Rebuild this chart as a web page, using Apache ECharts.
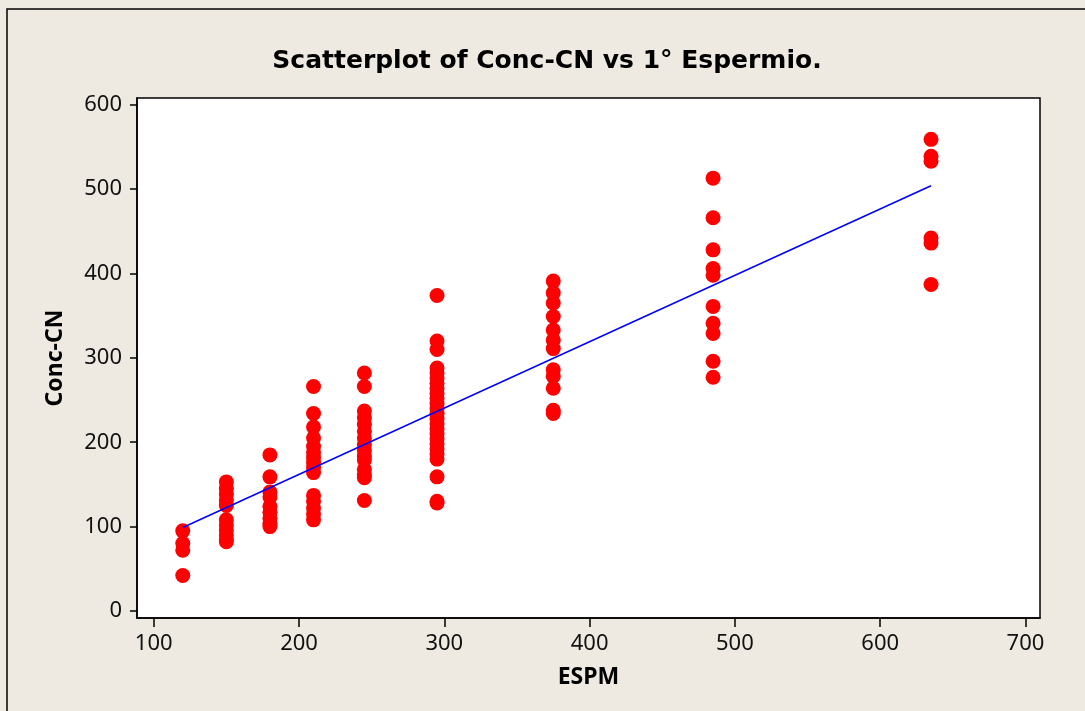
<!DOCTYPE html>
<html>
<head>
<meta charset="utf-8">
<script src="https://cdn.jsdelivr.net/npm/echarts@6/dist/echarts.min.js"></script>
<style>
html,body{margin:0;padding:0;background:#EEEAE1;}
#chart{width:1085px;height:711px;}
</style>
</head>
<body>
<div id="chart"></div>
<script>
// ESPM levels (x) and Conc-CN values (y) observed at each level
const espmLevels = [120, 150, 180, 210, 245, 295, 375, 485, 635];
const concAt120 = [95, 80, 72, 42];
const concAt150 = [153, 145, 138, 131, 125, 108, 102, 96, 90, 85, 82];
const concAt180 = [185, 159, 141, 135, 124, 117, 110, 104, 100];
const concAt210 = [266, 234, 218, 205, 195, 188, 182, 176, 170, 164, 137, 130, 122, 115, 108];
const concAt245 = [282, 266, 237, 229, 221, 213, 205, 197, 190, 183, 179, 168, 162, 158, 131];
const concAt295 = [374, 320, 310, 288, 282, 276, 270, 264, 258, 252, 246, 240, 234, 228, 222, 216, 210, 204, 198, 192, 186, 180, 159, 130, 128];
const concAt375 = [391, 377, 365, 349, 333, 321, 311, 286, 278, 264, 238, 234];
const concAt485 = [513, 466, 428, 406, 398, 361, 341, 329, 296, 277];
const concAt635 = [559, 539, 533, 442, 436, 387];
const concGroups = [concAt120, concAt150, concAt180, concAt210, concAt245, concAt295, concAt375, concAt485, concAt635];

// fitted line end points
const fitX = [120, 635];
const fitY = [99, 504];

// tick labels
const xTicks = [100, 200, 300, 400, 500, 600, 700];
const yTicks = [0, 100, 200, 300, 400, 500, 600];

const titleText = 'Scatterplot of Conc-CN vs 1° Espermio.';

const points = [];
espmLevels.forEach((x, i) => concGroups[i].forEach(y => points.push([x, y])));
const fitData = fitX.map((x, i) => [x, fitY[i]]);

const chart = echarts.init(document.getElementById('chart'), null, {renderer: 'canvas'});
const tickFont = {fontFamily: 'Noto Sans', fontSize: 22, color: '#111'};
chart.setOption({
  animation: false,
  backgroundColor: '#EEEAE1',
  graphic: [
    {type: 'rect', shape: {x: 7, y: 9, width: 1200, height: 900}, style: {fill: null, stroke: '#000', lineWidth: 1.5}, silent: true},
    {type: 'text', x: 547, y: 61, style: {text: titleText, font: 'bold 25px "DejaVu Sans"', fill: '#000', textAlign: 'center', textVerticalAlign: 'middle'}}
  ],
  grid: {left: 137, top: 98, right: 45, bottom: 93, show: true, backgroundColor: '#fff', borderColor: '#000', borderWidth: 1.5},
  xAxis: {
    type: 'value', min: 88.5, max: 710,
    name: 'ESPM', nameLocation: 'middle', nameGap: 48,
    nameTextStyle: {fontFamily: 'Noto Sans', fontWeight: 'bold', fontSize: 23, color: '#000'},
    axisLine: {show: true, onZero: false, lineStyle: {color: '#000', width: 1.5}},
    axisTick: {show: true, inside: false, length: 9, customValues: xTicks, lineStyle: {color: '#000', width: 1.5}},
    axisLabel: Object.assign({margin: 15, customValues: xTicks}, tickFont),
    splitLine: {show: false}
  },
  yAxis: {
    type: 'value', min: -8.3, max: 608,
    name: 'Conc-CN', nameLocation: 'middle', nameGap: 70, nameRotate: 90,
    nameTextStyle: {fontFamily: 'Noto Sans', fontWeight: 'bold', fontSize: 23, color: '#000'},
    axisLine: {show: true, onZero: false, lineStyle: {color: '#000', width: 1.5}},
    axisTick: {show: true, inside: false, length: 7, customValues: yTicks, lineStyle: {color: '#000', width: 1.5}},
    axisLabel: Object.assign({margin: 15, customValues: yTicks}, tickFont),
    splitLine: {show: false}
  },
  series: [
    {type: 'scatter', data: points, symbol: 'circle', symbolSize: 15, itemStyle: {color: '#FF0000', opacity: 1}},
    {type: 'line', data: fitData, showSymbol: false, lineStyle: {color: '#0000FF', width: 1.5}, z: 3}
  ]
});
</script>
</body>
</html>
